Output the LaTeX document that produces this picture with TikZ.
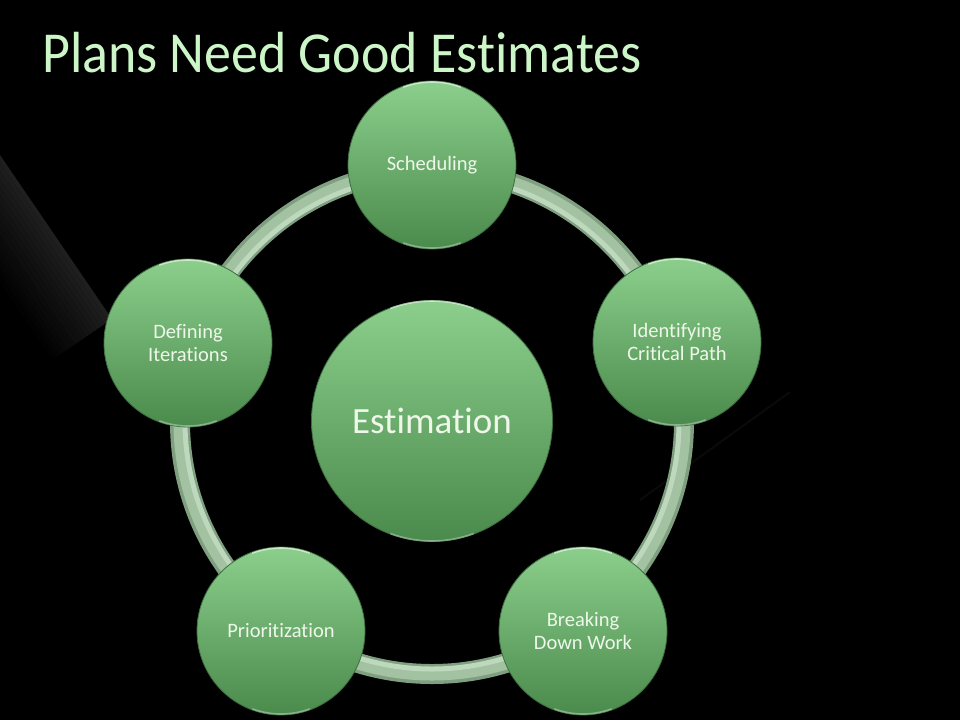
\documentclass[tikz,border=0pt]{standalone}
\usepackage{fontspec}
\usetikzlibrary{calc}
\setmainfont{Carlito}[Ligatures=NoCommon]
\newfontfamily\titlefont{Carlito}[FakeStretch=0.93, Ligatures=NoCommon]
\definecolor{bubtop}{HTML}{8CCF8C}
\definecolor{bubbot}{HTML}{4A8A4C}
\definecolor{bubedge}{HTML}{3E6E40}
\definecolor{bubtext}{HTML}{EEF7EA}
\definecolor{titlegreen}{HTML}{CCF5C8}
\definecolor{ringdark}{HTML}{7F9F80}
\definecolor{ringmid}{HTML}{A2C2A2}
\definecolor{ringlight}{HTML}{BDD8BC}
\begin{document}
\begin{tikzpicture}[x=1pt,y=-1pt,
  bubble/.style={circle, minimum size=168pt, inner sep=0pt, top color=bubtop, bottom color=bubbot,
    draw=bubedge, line width=0.8pt, text=bubtext, font=\fontsize{20.5}{23}\selectfont, align=center},
  bigbubble/.style={bubble, minimum size=241pt, font=\fontsize{37}{42}\selectfont},
  hilite/.style={white, opacity=0.55, line width=1.6pt, line cap=round}
]
\fill[black] (0,0) rectangle (960,720);
\useasboundingbox (0,0) rectangle (960,720);
% background streak (strips fading away from the upper edge)
\foreach \i in {0,...,15}{
  \pgfmathsetmacro{\a}{\i*4.5}
  \pgfmathsetmacro{\b}{(\i+1)*4.5}
  \pgfmathsetmacro{\g}{12-0.75*\i}
  \fill[white!\g!black]
    ($(0,155)+(-0.825*\a,0.564*\a)$) -- ($(112,319)+(-0.825*\a,0.564*\a)$)
    -- ($(112,319)+(-0.825*\b,0.564*\b)$) -- ($(0,155)+(-0.825*\b,0.564*\b)$) -- cycle;
}
\fill[black] (-80,0) rectangle (0,720);
% faint streak on the right
\draw[white!4!black, line width=2pt] (640,500) -- (790,392);
% title
\node[anchor=base west, inner sep=0pt, text=titlegreen, font=\titlefont\fontsize{58}{66}\selectfont] (title) at (42,72) {Plans Need Good Estimates};
% ring
\coordinate (c) at (432,422);
\draw[ringdark, line width=20pt] (c) circle[radius=252pt];
\draw[ringmid, line width=13pt] (c) circle[radius=252pt];
\draw[ringlight, line width=5pt] (c) circle[radius=247pt];
% bubbles
\node[bigbubble] (est) at (432,421) {Estimation};
\node[bubble] (sch) at (432,165) {Scheduling};
\node[bubble] (icp) at (677,342) {Identifying\\Critical Path};
\node[bubble] (bdw) at (583,631) {Breaking\\Down Work};
\node[bubble] (pri) at (281,631) {Prioritization};
\node[bubble] (dit) at (188,343) {Defining\\Iterations};
% top/bottom highlights
\foreach \n/\r in {est/120, sch/83, icp/83, bdw/83, pri/83, dit/83}{
  \draw[hilite] ([shift={(70:\r pt)}]\n.center) arc[start angle=70, end angle=110, radius=\r pt];
  \draw[hilite, opacity=0.35] ([shift={(-110:\r pt)}]\n.center) arc[start angle=-110, end angle=-70, radius=\r pt];
}
\end{tikzpicture}
\end{document}
